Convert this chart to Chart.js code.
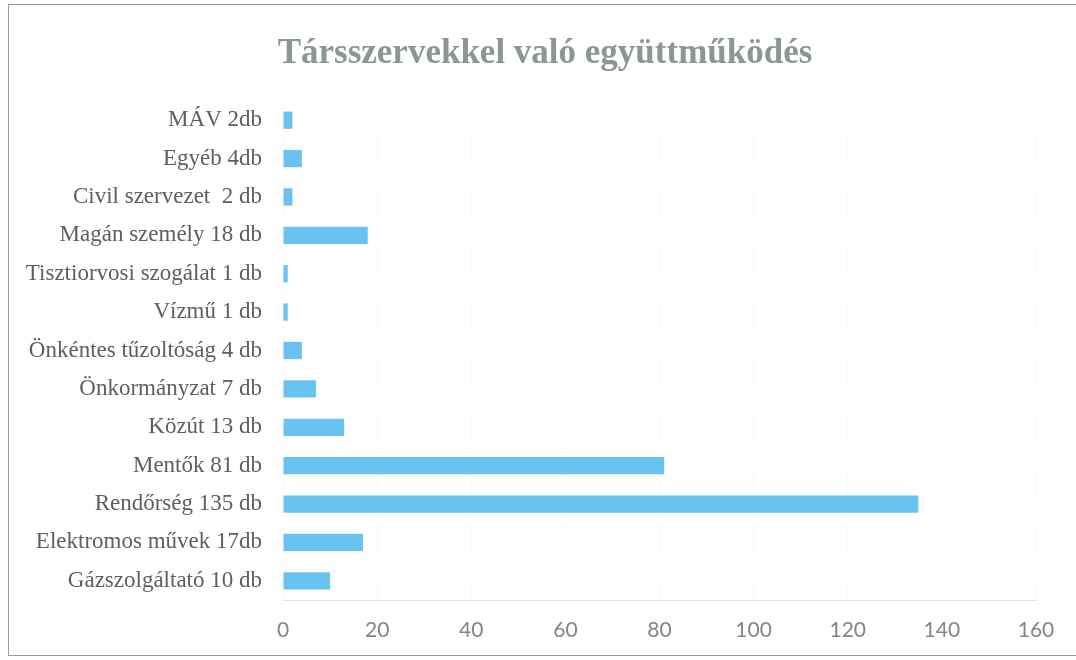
<!DOCTYPE html>
<html>
<head>
<meta charset="utf-8">
<script src="https://cdn.jsdelivr.net/npm/chart.js@4"></script>
<style>
  html, body { margin: 0; padding: 0; background: #fff; }
  #wrap { position: relative; width: 1076px; height: 660px; }
  #frame { position: absolute; left: 8px; top: 4px; width: 1080px; height: 652px;
           border: 1px solid #9a9a9a; box-sizing: border-box; pointer-events: none; }
  canvas { position: absolute; left: 0; top: 0; }
</style>
</head>
<body>
<div id="wrap">
  <canvas id="partnersChart" width="1076" height="660"></canvas>
  <div id="frame"></div>
</div>
<script>
// Társszervekkel való együttműködés - data
const categories = [
    'MÁV 2db',
    'Egyéb 4db',
    'Civil szervezet  2 db',
    'Magán személy 18 db',
    'Tisztiorvosi szogálat 1 db',
    'Vízmű 1 db',
    'Önkéntes tűzoltóság 4 db',
    'Önkormányzat 7 db',
    'Közút 13 db',
    'Mentők 81 db',
    'Rendőrség 135 db',
    'Elektromos művek 17db',
    'Gázszolgáltató 10 db'
];
const counts = [2, 4, 2, 18, 1, 1, 4, 7, 13, 81, 135, 17, 10];
const xTicks = [0, 20, 40, 60, 80, 100, 120, 140, 160];

const COLORS = {
    bar: '#68c3f0',
    label: '#5e5e5e',
    tick: '#858585',
    title: '#8b9792',
    grid: 'rgba(0, 0, 0, 0.045)'
};

// the title sits a little right of the plot's centre in the original
const titleNudge = {
    id: 'titleNudge',
    afterLayout(chart) {
        if (chart.titleBlock) {
            chart.titleBlock.left += 27;
            chart.titleBlock.right += 27;
        }
    }
};

const createPartnersChart = () => {
    const ctx = document.getElementById('partnersChart').getContext('2d');

    return new Chart(ctx, {
        type: 'bar',
        data: {
            labels: categories,
            datasets: [{
                label: 'db',
                data: counts,
                backgroundColor: COLORS.bar,
                borderWidth: 0,
                categoryPercentage: 0.9,
                barPercentage: 0.5
            }]
        },
        plugins: [titleNudge],
        options: {
            indexAxis: 'y',
            responsive: false,
            animation: false,
            layout: { padding: { left: 0, right: 40, top: 33, bottom: 16 } },
            scales: {
                x: {
                    min: 0,
                    max: 160,
                    afterBuildTicks: (axis) => {
                        axis.ticks = xTicks.map(v => ({ value: v }));
                    },
                    afterFit: (axis) => {
                        axis.height = 44;
                    },
                    grid: {
                        color: COLORS.grid,
                        drawTicks: false
                    },
                    border: { display: true, color: 'rgba(0,0,0,0.12)', dash: [3, 4] },
                    ticks: {
                        color: COLORS.tick,
                        padding: 18,
                        font: { family: 'Lato, sans-serif', size: 21 }
                    }
                },
                y: {
                    afterFit: (axis) => {
                        axis.width = 283;
                    },
                    grid: { display: false },
                    border: { display: false },
                    ticks: {
                        color: COLORS.label,
                        padding: 13,
                        font: { family: '"Liberation Serif", "Times New Roman", serif', size: 23 }
                    }
                }
            },
            plugins: {
                legend: { display: false },
                tooltip: { enabled: false },
                title: {
                    display: true,
                    text: 'Társszervekkel való együttműködés',
                    color: COLORS.title,
                    padding: { top: 0, bottom: 26 },
                    font: { family: '"Liberation Serif", "Times New Roman", serif', size: 35, weight: 'bold' }
                }
            }
        }
    });
};

createPartnersChart();
</script>
</body>
</html>
